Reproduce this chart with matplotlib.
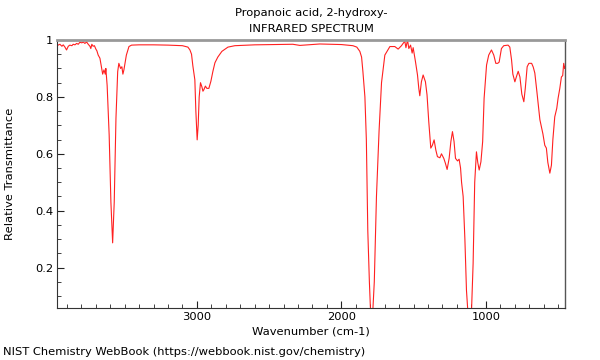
import matplotlib
matplotlib.use("Agg")
import matplotlib.pyplot as plt
from matplotlib.ticker import MultipleLocator, FixedLocator

title_line1 = "Propanoic acid, 2-hydroxy-"
title_line2 = "INFRARED SPECTRUM"
x_label = "Wavenumber (cm-1)"
y_label = "Relative Transmittance"
footer = "NIST Chemistry WebBook (https://webbook.nist.gov/chemistry)"

x_ticks = [3000, 2000, 1000]
x_tick_labels = ["3000", "2000", "1000"]
y_ticks = [0.2, 0.4, 0.6, 0.8, 1.0]
y_tick_labels = ["0.2", "0.4", "0.6", "0.8", "1"]

wavenumber = [
    3966, 3960, 3948, 3934, 3925, 3913, 3902, 3890, 3879, 3865,
    3856, 3844, 3832, 3821, 3810, 3796, 3787, 3775, 3763, 3752,
    3740, 3734, 3727, 3718, 3709, 3699, 3692, 3683, 3671, 3652,
    3643, 3634, 3630, 3621, 3607, 3595, 3583, 3572, 3560, 3548,
    3540, 3528, 3519, 3512, 3505, 3488, 3470, 3452, 3400, 3300,
    3200, 3100, 3062, 3048, 3037, 3028, 3014, 3007, 2998, 2991,
    2984, 2975, 2965, 2958, 2952, 2941, 2931, 2917, 2903, 2889,
    2875, 2855, 2827, 2785, 2737, 2600, 2450, 2336, 2287, 2149,
    2000, 1920, 1893, 1872, 1860, 1851, 1837, 1827, 1817, 1806,
    1799, 1791, 1782, 1772, 1757, 1739, 1722, 1699, 1664, 1630,
    1607, 1584, 1561, 1553, 1542, 1533, 1521, 1510, 1503, 1487,
    1473, 1464, 1457, 1446, 1434, 1418, 1407, 1395, 1381, 1370,
    1358, 1346, 1335, 1318, 1307, 1291, 1280, 1268, 1254, 1242,
    1231, 1220, 1210, 1196, 1185, 1175, 1168, 1157, 1145, 1134,
    1125, 1111, 1099, 1088, 1077, 1065, 1056, 1046, 1034, 1022,
    1012, 995, 980, 961, 945, 931, 918, 908, 892, 876,
    846, 834, 822, 813, 799, 789, 776, 764, 751, 737,
    727, 714, 702, 683, 672, 661, 647, 626, 605, 592,
    581, 571, 557, 546, 536, 523, 509, 500, 488, 477,
    468, 461, 454, 450,
]
transmittance = [
    0.985, 0.982, 0.985, 0.978, 0.983, 0.975, 0.965, 0.978, 0.982, 0.980,
    0.985, 0.983, 0.988, 0.985, 0.992, 0.990, 0.993, 0.988, 0.993, 0.985,
    0.978, 0.970, 0.985, 0.978, 0.980, 0.968, 0.962, 0.947, 0.936, 0.880,
    0.895, 0.880, 0.900, 0.840, 0.666, 0.430, 0.287, 0.430, 0.725, 0.889,
    0.918, 0.900, 0.906, 0.880, 0.895, 0.947, 0.977, 0.982, 0.983, 0.983,
    0.982, 0.980, 0.975, 0.965, 0.950, 0.910, 0.860, 0.750, 0.649, 0.700,
    0.800, 0.850, 0.835, 0.820, 0.825, 0.838, 0.830, 0.830, 0.855, 0.890,
    0.920, 0.940, 0.960, 0.975, 0.980, 0.983, 0.984, 0.985, 0.981, 0.986,
    0.984, 0.980, 0.975, 0.960, 0.940, 0.890, 0.800, 0.650, 0.330, 0.150,
    0.060, 0.040, 0.050, 0.150, 0.450, 0.680, 0.850, 0.947, 0.977, 0.977,
    0.968, 0.980, 0.996, 0.973, 1.000, 0.970, 0.982, 0.954, 0.973, 0.924,
    0.877, 0.830, 0.804, 0.853, 0.877, 0.853, 0.807, 0.713, 0.620, 0.630,
    0.649, 0.613, 0.590, 0.586, 0.600, 0.584, 0.567, 0.545, 0.584, 0.643,
    0.678, 0.643, 0.584, 0.575, 0.581, 0.550, 0.500, 0.450, 0.300, 0.120,
    0.050, 0.040, 0.050, 0.215, 0.500, 0.607, 0.570, 0.543, 0.572, 0.643,
    0.795, 0.912, 0.947, 0.965, 0.947, 0.918, 0.918, 0.922, 0.970, 0.980,
    0.982, 0.975, 0.930, 0.880, 0.853, 0.870, 0.890, 0.870, 0.810, 0.783,
    0.830, 0.906, 0.918, 0.918, 0.905, 0.884, 0.820, 0.720, 0.670, 0.630,
    0.620, 0.570, 0.532, 0.560, 0.650, 0.730, 0.760, 0.795, 0.830, 0.870,
    0.875, 0.918, 0.900, 0.905,
]

FS = 8.25

fig = plt.figure(figsize=(6.0, 3.6), dpi=100)
ax = fig.add_axes([57.3 / 600, 1 - 308.3 / 360, (565.3 - 57.3) / 600, (308.3 - 40) / 360])

ax.plot(wavenumber, transmittance, color="#ff2020", linewidth=0.8)
ax.set_xlim(3966, 450)
ax.set_ylim(0.057, 1.0)

ax.xaxis.set_major_locator(FixedLocator(x_ticks))
ax.set_xticklabels(x_tick_labels)
ax.xaxis.set_minor_locator(MultipleLocator(100))
ax.yaxis.set_major_locator(FixedLocator(y_ticks))
ax.set_yticklabels(y_tick_labels)
ax.yaxis.set_minor_locator(MultipleLocator(0.05))

ax.tick_params(axis="both", which="major", direction="in", length=5, width=0.8,
               labelsize=FS, color="#222222", pad=3)
ax.tick_params(axis="both", which="minor", direction="in", length=3, width=0.6, color="#222222")
ax.tick_params(axis="x", which="both", top=False)
ax.tick_params(axis="y", which="both", right=False)

ax.spines["top"].set_color("#999999")
ax.spines["top"].set_linewidth(2.0)
ax.spines["right"].set_color("#555555")
ax.spines["right"].set_linewidth(1.0)
ax.spines["left"].set_color("#333333")
ax.spines["left"].set_linewidth(0.8)
ax.spines["bottom"].set_color("#333333")
ax.spines["bottom"].set_linewidth(0.8)

cx = (57.3 + 565.3) / 2 / 600
fig.text(cx, 1 - 13 / 360, title_line1, ha="center", va="center", fontsize=FS)
fig.text(cx, 1 - 29 / 360, title_line2, ha="center", va="center", fontsize=FS)
fig.text(cx, 1 - 331 / 360, x_label, ha="center", va="center", fontsize=FS)
fig.text(10 / 600, 1 - 174 / 360, y_label, ha="center", va="center", rotation=90, fontsize=FS)
fig.text(3 / 600, 1 - 352 / 360, footer, ha="left", va="center", fontsize=FS)

fig.savefig("out.png", dpi=100)
